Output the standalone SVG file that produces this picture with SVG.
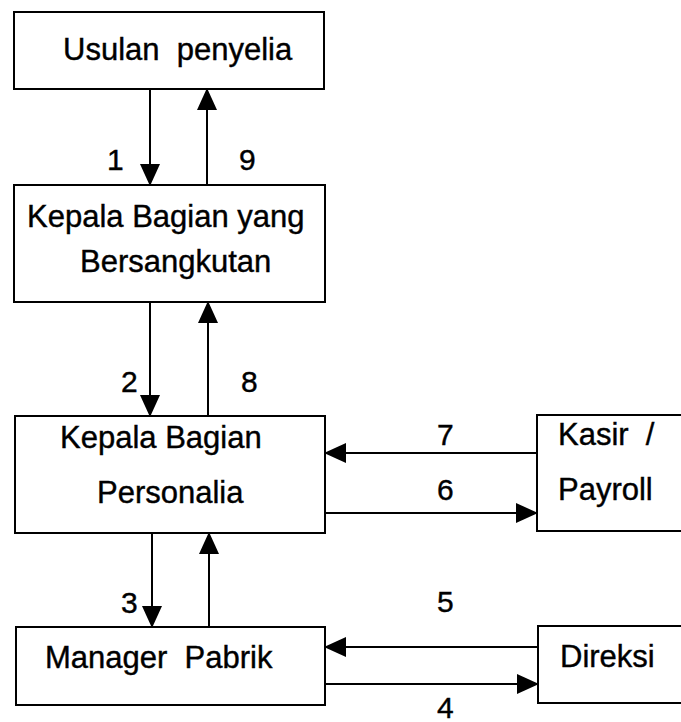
<svg xmlns="http://www.w3.org/2000/svg" width="681" height="722" viewBox="0 0 681 722">
  <style>
    .box { fill: #fff; stroke: #000; stroke-width: 2; }
    .lbl { font-family: "Liberation Sans", Arial, sans-serif; font-size: 31px; fill: #000; stroke: #000; stroke-width: 0.4; white-space: pre; }
    .num { font-family: "Liberation Sans", Arial, sans-serif; font-size: 30px; fill: #000; stroke: #000; stroke-width: 0.4; }
    .flow { stroke: #000; stroke-width: 2; fill: none; marker-end: url(#head); }
  </style>
  <defs>
    <marker id="head" markerUnits="userSpaceOnUse" markerWidth="22" markerHeight="20" refX="21" refY="10" orient="auto" viewBox="0 0 22 20">
      <path d="M0,0 L22,10 L0,20 Z" fill="#000"/>
    </marker>
  </defs>
  <rect width="681" height="722" fill="#fff"/>

  <g id="usulan-penyelia">
    <rect class="box" x="14" y="12" width="310" height="77"/>
    <text class="lbl" x="63" y="60" xml:space="preserve">Usulan  penyelia</text>
  </g>

  <g id="kepala-bagian-bersangkutan">
    <rect class="box" x="14" y="185" width="311" height="117"/>
    <text class="lbl" x="27" y="227">Kepala Bagian yang</text>
    <text class="lbl" x="80" y="272">Bersangkutan</text>
  </g>

  <g id="kepala-bagian-personalia">
    <rect class="box" x="15" y="416" width="310" height="117"/>
    <text class="lbl" x="60" y="448">Kepala Bagian</text>
    <text class="lbl" x="97" y="503">Personalia</text>
  </g>

  <g id="kasir-payroll">
    <rect class="box" x="537" y="415" width="160" height="116"/>
    <text class="lbl" x="558" y="445" xml:space="preserve">Kasir  /</text>
    <text class="lbl" x="558" y="500">Payroll</text>
  </g>

  <g id="manager-pabrik">
    <rect class="box" x="16" y="627" width="309" height="78"/>
    <text class="lbl" x="45" y="668" xml:space="preserve">Manager  Pabrik</text>
  </g>

  <g id="direksi">
    <rect class="box" x="538" y="626" width="160" height="77"/>
    <text class="lbl" x="560" y="667">Direksi</text>
  </g>

  <g id="connectors">
    <line class="flow" x1="150" y1="89" x2="150" y2="185"/>
    <line class="flow" x1="207" y1="185" x2="207" y2="89"/>
    <line class="flow" x1="150" y1="302" x2="150" y2="416"/>
    <line class="flow" x1="208" y1="416" x2="208" y2="302"/>
    <line class="flow" x1="152" y1="533" x2="152" y2="627"/>
    <line class="flow" x1="209" y1="627" x2="209" y2="533"/>
    <line class="flow" x1="537" y1="453" x2="325" y2="453"/>
    <line class="flow" x1="325" y1="513" x2="537" y2="513"/>
    <line class="flow" x1="538" y1="647" x2="325" y2="647"/>
    <line class="flow" x1="325" y1="684" x2="538" y2="684"/>

    <text class="num" x="107" y="170">1</text>
    <text class="num" x="239" y="170">9</text>
    <text class="num" x="121" y="392">2</text>
    <text class="num" x="241" y="392">8</text>
    <text class="num" x="121" y="613">3</text>
    <text class="num" x="437" y="445">7</text>
    <text class="num" x="437" y="500">6</text>
    <text class="num" x="437" y="612">5</text>
    <text class="num" x="437" y="718">4</text>
  </g>
</svg>
